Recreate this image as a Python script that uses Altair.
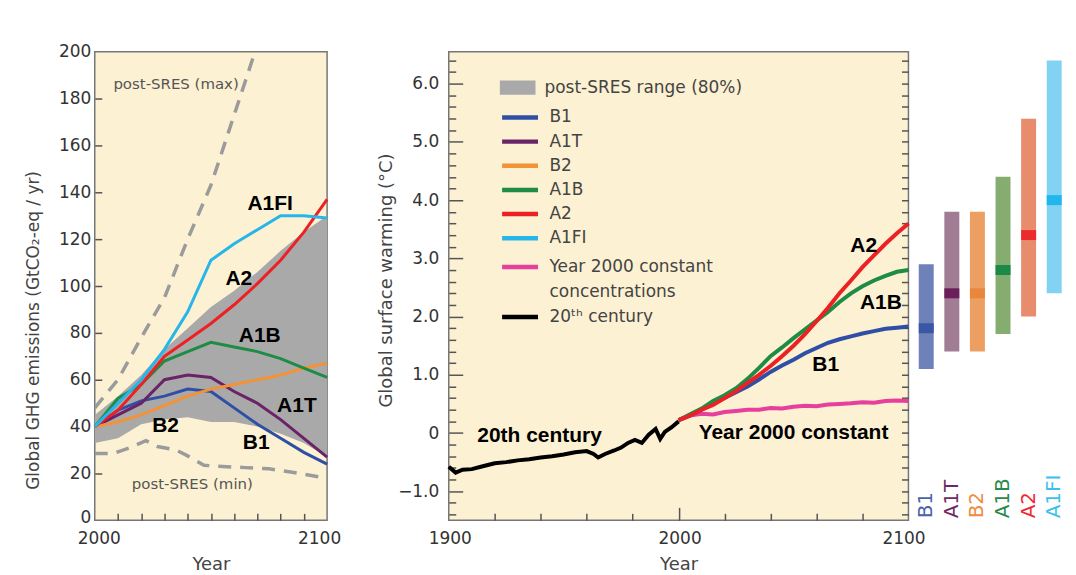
import altair as alt
import pandas as pd

# ---------------- data ----------------
scenarios = ["B1", "A1T", "B2", "A1B", "A2", "A1FI"]
scenario_colors = ["#2f4fa6", "#6a2268", "#f39237", "#1e8c45", "#ed2124", "#27b5ea"]

# left panel: emissions (GtCO2-eq / yr)
em_years = [2000, 2010, 2020, 2030, 2040, 2050, 2060, 2070, 2080, 2090, 2100]
em_B1 = [40, 47, 51, 53, 56, 55, 48, 41, 35, 29, 24]
em_A1T = [40, 45, 50, 60, 62, 61, 55, 50, 43, 35, 27]
em_B2 = [40, 42, 45, 49, 53, 56, 58, 60, 62, 65, 67]
em_A1B = [40, 52, 58, 68, 72, 76, 74, 72, 69, 65, 61]
em_A2 = [40, 47, 58, 70, 77, 84, 92, 101, 111, 123, 137]
em_A1FI = [40, 50, 60, 73, 89, 111, 118, 124, 130, 130, 129]
range_lo = [33, 35, 41, 43, 44, 42, 42, 40, 37, 33, 27]
range_hi = [45, 53, 62, 73, 82, 91, 98, 106, 115, 123, 130]

max_years = [2000, 2010, 2020, 2030, 2040, 2050, 2060, 2070]
max_vals = [48, 60, 78, 95, 120, 143, 173, 203]
min_years = [2000, 2008, 2015, 2022, 2027, 2035, 2040, 2047, 2055, 2065, 2075, 2085, 2100]
min_vals = [28.5, 28.5, 31, 34, 31.5, 30, 27.5, 23.5, 23, 22.5, 22, 20.5, 18]

left_labels = ["A1FI", "A2", "A1B", "A1T", "B2", "B1"]
left_label_x = [2075.5, 2062, 2071, 2087, 2030.5, 2069.5]
left_label_y = [135, 103, 78.7, 49, 40.4, 33.2]
left_notes = ["post-SRES (max)", "post-SRES (min)"]
left_note_x = [2035, 2042]
left_note_y = [186, 15.3]

# right panel: temperature (deg C)
c20_years = [1900, 1903, 1906, 1910, 1914, 1917, 1920, 1925, 1930, 1935, 1940, 1945,
             1950, 1955, 1960, 1963, 1965, 1968, 1972, 1975, 1978, 1981, 1984, 1987,
             1990, 1992, 1994, 1997, 2000]
c20_vals = [-0.58, -0.68, -0.63, -0.62, -0.58, -0.55, -0.52, -0.50, -0.47, -0.45, -0.42, -0.40,
            -0.37, -0.33, -0.31, -0.36, -0.42, -0.36, -0.30, -0.25, -0.17, -0.12, -0.17, -0.03,
            0.07, -0.10, 0.02, 0.10, 0.20]

t_years = [2000, 2005, 2010, 2015, 2020, 2025, 2030, 2035, 2040, 2045, 2050,
           2055, 2060, 2065, 2070, 2075, 2080, 2085, 2090, 2095, 2100]
t_B1 = [0.22, 0.30, 0.40, 0.50, 0.60, 0.70, 0.80, 0.92, 1.05, 1.16, 1.26,
        1.37, 1.46, 1.55, 1.61, 1.66, 1.71, 1.75, 1.79, 1.81, 1.83]
t_A1B = [0.22, 0.32, 0.42, 0.55, 0.65, 0.77, 0.93, 1.12, 1.32, 1.47, 1.63,
         1.78, 1.93, 2.08, 2.25, 2.40, 2.52, 2.62, 2.70, 2.77, 2.80]
t_A2 = [0.22, 0.30, 0.40, 0.48, 0.60, 0.72, 0.86, 1.00, 1.15, 1.32, 1.50,
        1.70, 1.92, 2.15, 2.40, 2.62, 2.85, 3.05, 3.25, 3.43, 3.60]
t_const = [0.22, 0.30, 0.33, 0.32, 0.36, 0.38, 0.40, 0.40, 0.43, 0.42, 0.45,
           0.47, 0.46, 0.49, 0.50, 0.51, 0.53, 0.52, 0.55, 0.56, 0.55]

right_labels = ["20th century", "Year 2000 constant", "A2", "A1B", "B1"]
right_label_x = [1939.5, 2050, 2080.5, 2088, 2064]
right_label_y = [-0.06, 0.0, 3.21, 2.23, 1.16]

color_domain = ["Year 2000 constant", "concentrations", "20\u1d57\u02b0 century"]
color_range = ["#e63f9c", "rgba(0,0,0,0)", "#000000"]

# bars: likely range and best estimate at 2100
bar_lo = [1.1, 1.4, 1.4, 1.7, 2.0, 2.4]
bar_hi = [2.9, 3.8, 3.8, 4.4, 5.4, 6.4]
bar_best = [1.8, 2.4, 2.4, 2.8, 3.4, 4.0]
bar_light = ["#6e81b8", "#a07c95", "#ec9f60", "#86ad70", "#e98b6d", "#82d2f4"]
bar_dark = ["#3a57a5", "#6b1e5b", "#e8873c", "#198a48", "#ec2b2f", "#22b7ec"]
bar_text = ["#4a62aa", "#6e2a60", "#ee8c40", "#2a8a4a", "#ee2a30", "#3cc0ef"]

# ---------------- tables ----------------
em_series = {"B1": em_B1, "A1T": em_A1T, "B2": em_B2, "A1B": em_A1B, "A2": em_A2, "A1FI": em_A1FI}
em_df = pd.DataFrame([{"year": y, "value": v, "scenario": s}
                      for s in scenarios for y, v in zip(em_years, em_series[s])])
rng_df = pd.DataFrame({"year": em_years, "lo": range_lo, "hi": range_hi,
                       "band": "post-SRES range (80%)"})
dash_df = pd.DataFrame(
    [{"year": y, "value": v, "bound": "max"} for y, v in zip(max_years, max_vals)]
    + [{"year": y, "value": v, "bound": "min"} for y, v in zip(min_years, min_vals)])
lab_l_df = pd.DataFrame({"label": left_labels, "x": left_label_x, "y": left_label_y})
note_l_df = pd.DataFrame({"label": left_notes, "x": left_note_x, "y": left_note_y})

t_series = {"B1": t_B1, "A1B": t_A1B, "A2": t_A2}
sc_df = pd.DataFrame([{"year": y, "value": v, "scenario": s}
                      for s in ["B1", "A1B", "A2"] for y, v in zip(t_years, t_series[s])])
cl_df = pd.DataFrame(
    [{"year": y, "value": v, "series": color_domain[2]} for y, v in zip(c20_years, c20_vals)]
    + [{"year": y, "value": v, "series": color_domain[0]} for y, v in zip(t_years, t_const)])
lab_r_df = pd.DataFrame({"label": right_labels, "x": right_label_x, "y": right_label_y})

bars_df = pd.DataFrame({"scenario": scenarios, "lo": bar_lo, "hi": bar_hi, "best": bar_best,
                        "light": bar_light, "dark": bar_dark, "txt": bar_text})

# ---------------- styles ----------------
FONT = "DejaVu Sans"
BOLD = "Liberation Sans"
CREAM = "#fcf1d2"
FRAME = "#777777"

common_leg = dict(orient="none", title=None, direction="vertical", labelFont=FONT,
                  labelFontSize=17, labelColor="#444444", labelLimit=400, padding=0,
                  labelOffset=9, symbolSize=1296, clipHeight=17)
leg_fill = alt.Legend(legendX=406, legendY=27.5, symbolType="M-1,-0.4H1V0.4H-1Z",
                      symbolStrokeWidth=0, **common_leg)
leg_stroke = alt.Legend(legendX=406, legendY=57.5, symbolType="stroke",
                        symbolStrokeWidth=4.5, rowPadding=6.2, **common_leg)
leg_color = alt.Legend(legendX=406, legendY=207.5, symbolType="stroke",
                       symbolStrokeWidth=4.5, rowPadding=7, **common_leg)

stroke_scale = alt.Scale(domain=scenarios, range=scenario_colors)

# ---------------- left panel ----------------
xl = alt.Scale(domain=[2000, 2100], nice=False)
yl = alt.Scale(domain=[0, 200], nice=False)
ax_xl = alt.Axis(values=[2000, 2100], format="d", ticks=False, domain=False, labelPadding=10,
                 labelFlush=False,
                 labelOffset={"condition": {"test": "datum.value == 2100", "value": -8}, "value": 4},
                 title="Year", titlePadding=9)
ax_yl = alt.Axis(values=list(range(0, 201, 20)), ticks=False, domain=False, labelPadding=4,
                 labelOffset={"condition": {"test": "datum.value == 0", "value": -3}, "value": 0},
                 title="Global GHG emissions (GtCO\u2082-eq / yr)", titleFontSize=17,
                 titleX=-52, titleY=279)
ax_xl_t = alt.Axis(orient="top", offset=-470, values=list(range(2010, 2100, 10)), labels=False,
                   domain=False, tickSize=7, title=None)
ax_yl_t = alt.Axis(orient="right", offset=-233, values=list(range(20, 200, 20)), labels=False,
                   domain=False, tickSize=7, title=None)

area = alt.Chart(rng_df).mark_area(opacity=1).encode(
    x=alt.X("year:Q", scale=xl, axis=ax_xl),
    y=alt.Y("lo:Q", scale=yl, axis=ax_yl),
    y2="hi:Q",
    fill=alt.Fill("band:N", scale=alt.Scale(domain=["post-SRES range (80%)"], range=["#a9a9a9"]),
                  legend=leg_fill),
)
dashed = alt.Chart(dash_df).mark_line(clip=True, color="#9b9b9b", strokeWidth=3.5,
                                      strokeDash=[13, 9]).encode(
    x=alt.X("year:Q", scale=xl, axis=ax_xl_t),
    y=alt.Y("value:Q", scale=yl, axis=ax_yl_t),
    detail="bound:N",
)
lines_l = alt.Chart(em_df).mark_line(strokeWidth=3).encode(
    x=alt.X("year:Q", scale=xl, axis=None),
    y=alt.Y("value:Q", scale=yl, axis=None),
    stroke=alt.Stroke("scenario:N", scale=stroke_scale, legend=leg_stroke),
)
notes_l = alt.Chart(note_l_df).mark_text(font=FONT, fontSize=15, color="#555555").encode(
    x=alt.X("x:Q", scale=xl, axis=None), y=alt.Y("y:Q", scale=yl, axis=None), text="label:N")
txt_l = alt.Chart(lab_l_df).mark_text(font=BOLD, fontWeight="bold", fontSize=21,
                                      color="#000000").encode(
    x=alt.X("x:Q", scale=xl, axis=None), y=alt.Y("y:Q", scale=yl, axis=None), text="label:N")

left = alt.layer(area, dashed, lines_l, notes_l, txt_l).resolve_axis(
    x="independent", y="independent").properties(
    width=233, height=470,
    view=alt.ViewBackground(fill=CREAM, stroke=FRAME, strokeWidth=1.5))

# ---------------- right panel ----------------
xr = alt.Scale(domain=[1900, 2100], nice=False)
yr = alt.Scale(domain=[-1.5, 6.55], nice=False)
minor_vals = [round(-1.4 + 0.2 * k, 1) for k in range(40)]
ax_xr = alt.Axis(values=[1900, 2000, 2100], format="d", ticks=False, domain=False,
                 labelPadding=10, labelFlush=False,
                 labelOffset={"condition": {"test": "datum.value == 2100", "value": -5}, "value": 1},
                 title="Year", titlePadding=9)
ax_yr = alt.Axis(values=list(range(-1, 7)),
                 labelExpr="datum.value == 0 ? '0' : replace(format(datum.value, '.1f'), '-', '\u2212')",
                 ticks=False, domain=False, labelPadding=10,
                 title="Global surface warming (\u00b0C)", titleX=-53, titleY=229)
ax_xr_t = alt.Axis(orient="top", offset=-470, values=list(range(1920, 2100, 20)), labels=False,
                   domain=False, title=None,
                   tickSize={"condition": {"test": "datum.value == 2000", "value": 13}, "value": 7})
ax_yr_t = alt.Axis(orient="right", offset=-461, values=minor_vals, labels=False, domain=False,
                   title=None,
                   tickSize={"condition": {"test": "abs(datum.value - round(datum.value)) < 0.01",
                                           "value": 14}, "value": 7})
ax_yr_t2 = alt.Axis(orient="left", offset=-461, values=minor_vals, labels=False, domain=False,
                    title=None, tickSize=7)

r_color = alt.Chart(cl_df).mark_line(strokeWidth=4).encode(
    x=alt.X("year:Q", scale=xr, axis=ax_xr),
    y=alt.Y("value:Q", scale=yr, axis=ax_yr),
    color=alt.Color("series:N", scale=alt.Scale(domain=color_domain, range=color_range),
                    legend=leg_color),
)
r_scen = alt.Chart(sc_df).mark_line(strokeWidth=4).encode(
    x=alt.X("year:Q", scale=xr, axis=ax_xr_t),
    y=alt.Y("value:Q", scale=yr, axis=ax_yr_t),
    stroke=alt.Stroke("scenario:N", scale=stroke_scale, legend=leg_stroke),
)
r_text = alt.Chart(lab_r_df).mark_text(font=BOLD, fontWeight="bold", fontSize=21,
                                       color="#000000").encode(
    x=alt.X("x:Q", scale=xr, axis=None),
    y=alt.Y("y:Q", scale=yr, axis=ax_yr_t2),
    text="label:N")

right = alt.layer(r_color, r_scen, r_text).resolve_axis(
    x="independent", y="independent").properties(
    width=461, height=470,
    view=alt.ViewBackground(fill=CREAM, stroke=FRAME, strokeWidth=1.5))

# ---------------- bars panel ----------------
xb = alt.X("scenario:N", sort=scenarios, scale=alt.Scale(paddingInner=0, paddingOuter=0), axis=None)
yb = alt.Scale(domain=[-1.5, 6.55], nice=False)
b_range = alt.Chart(bars_df).mark_bar(width=15, opacity=1).encode(
    x=xb, y=alt.Y("lo:Q", scale=yb, axis=None), y2="hi:Q",
    fill=alt.Fill("light:N", scale=None))
b_best = alt.Chart(bars_df).mark_tick(thickness=10, size=15, opacity=1).encode(
    x=xb, y=alt.Y("best:Q", scale=yb, axis=None),
    color=alt.Color("dark:N", scale=None))
b_text = alt.Chart(bars_df).mark_text(angle=270, align="left", baseline="middle", font=FONT,
                                      fontSize=20).encode(
    x=xb, y=alt.value(468), text="scenario:N",
    color=alt.Color("txt:N", scale=None))
bars = alt.layer(b_range, b_best, b_text).properties(
    width=154, height=470, view=alt.ViewBackground(stroke="transparent"))

spacer = alt.Chart(pd.DataFrame({"s": [0]})).mark_point(opacity=0).properties(
    width=112, height=470, view=alt.ViewBackground(stroke="transparent"))

chart = alt.hconcat(left, spacer, right, bars, spacing=5, bounds="flush").properties(
    padding={"left": 16, "top": 33, "right": 0, "bottom": 0}
).configure_axis(
    grid=False, labelFont=FONT, labelFontSize=17, labelColor="#333333",
    titleFont=FONT, titleFontSize=18, titleFontWeight="normal", titleColor="#444444",
    tickColor="#555555", tickWidth=1.5
).configure_view(stroke="transparent")

chart.save("out.html", embed_options={"renderer": "svg", "actions": False})
